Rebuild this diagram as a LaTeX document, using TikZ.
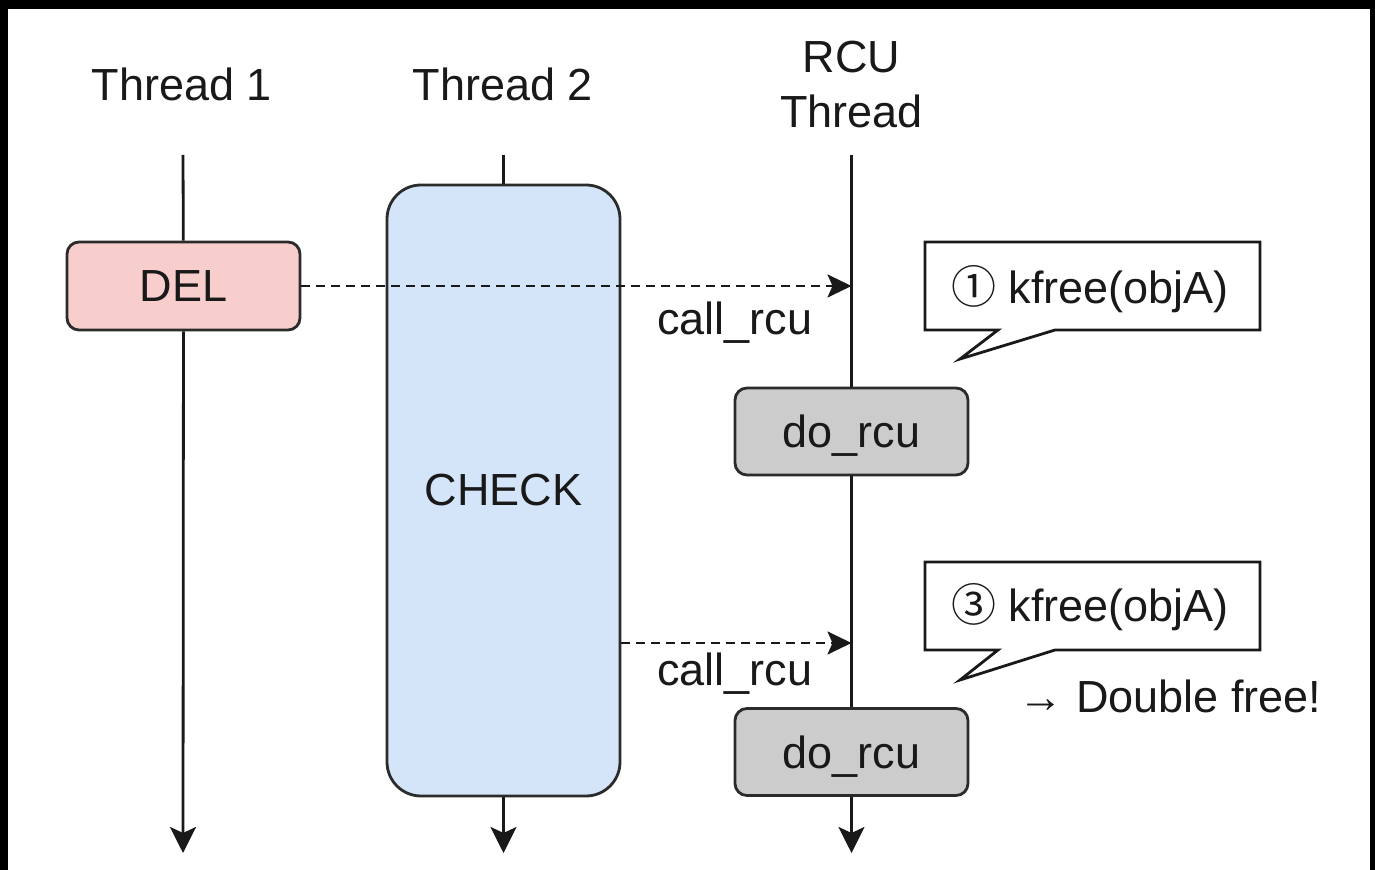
\documentclass[tikz,border=0pt]{standalone}
\usepackage{fontspec}
\setmainfont{Liberation Sans}
\newfontfamily\circfont{Noto Sans CJK JP}
\usetikzlibrary{arrows.meta}
\definecolor{delfill}{HTML}{F8CECC}
\definecolor{checkfill}{HTML}{D4E5FA}
\definecolor{rcufill}{HTML}{CCCCCC}
\definecolor{boxline}{HTML}{2B2B2B}
\begin{document}
\begin{tikzpicture}[x=0.5pt,y=-0.5pt,
  every node/.style={font=\fontsize{22.5}{27.5}\selectfont, text=black!90},
  lane/.style={line width=1.4pt, draw=black!90},
  box/.style={draw=boxline, line width=1.4pt, rounded corners=6pt,
    minimum width=116.5pt, inner sep=0pt},
  callarrow/.style={dash pattern=on 4.5pt off 3pt, line width=1.3pt, draw=black!90,
    -{Stealth[length=12pt,width=11.5pt,inset=2.5pt]}},
  endarrow/.style={-{Stealth[length=13pt,width=13pt,inset=3pt]}},
  bubble/.style={draw=black!90, line width=1.4pt, fill=white, line join=miter}]

  % frame
  \fill[black] (0,0) rectangle (1375,870);
  \fill[white] (8,9) rectangle (1370,870);
  \useasboundingbox (0,0) rectangle (1375,870);

  % thread headers
  \node[anchor=base] (h1) at (182,101) {Thread 1};
  \node[anchor=base] (h2) at (503,101) {Thread 2};
  \node[anchor=base, align=center] (h3) at (851.5,128) {RCU\\Thread};

  % activity boxes
  \node[box, fill=delfill, minimum height=44pt] (del) at (183.5,286) {DEL};
  \node[box, fill=checkfill, minimum height=305.5pt, rounded corners=17pt] (check) at (503.5,490.5) {CHECK};
  \node[box, fill=rcufill, minimum height=43.5pt, text depth=0pt] (rcu1) at (851.5,431.5) {do\_rcu};
  \node[box, fill=rcufill, minimum height=43.5pt, text depth=0pt] (rcu2) at (851.5,752) {do\_rcu};

  % lifelines
  \coordinate (t1top) at (183,155);
  \coordinate (t1end) at (183,853);
  \coordinate (t2top) at (503.5,155);
  \coordinate (t2end) at (503.5,853);
  \coordinate (rtop) at (851.5,155);
  \coordinate (rend) at (851.5,853);
  \draw[lane] (t1top) -- (del);
  \draw[lane,endarrow] (del) -- (t1end);
  \draw[lane] (t2top) -- (check);
  \draw[lane,endarrow] (check) -- (t2end);
  \draw[lane] (rtop) -- (rcu1);
  \draw[lane] (rcu1) -- (rcu2);
  \draw[lane,endarrow] (rcu2) -- (rend);

  % call_rcu requests
  \coordinate (c2) at (851.5,643);
  \draw[callarrow] (del.east) -- (del.east -| rcu1.center);
  \draw[callarrow] (check.east |- c2) -- (c2);
  \node[anchor=base] (lab1) at (735,335) {call\_rcu};
  \node[anchor=base] (lab2) at (735,685) {call\_rcu};

  % speech bubbles
  \draw[bubble] (925,242) -- (1260,242) -- (1260,330) -- (1055,330) -- (960,359)
    -- (998,330) -- (925,330) -- cycle;
  \node[anchor=base] (note1) at (1090,304) {{\circfont ①} kfree(objA)};
  \draw[bubble] (925,562) -- (1260,562) -- (1260,650) -- (1055,650) -- (960,680)
    -- (998,650) -- (925,650) -- cycle;
  \node[anchor=base] (note3) at (1090,622) {{\circfont ③} kfree(objA)};
  \node[anchor=base] (dbl) at (1170,712) {→ Double free!};
\end{tikzpicture}
\end{document}
